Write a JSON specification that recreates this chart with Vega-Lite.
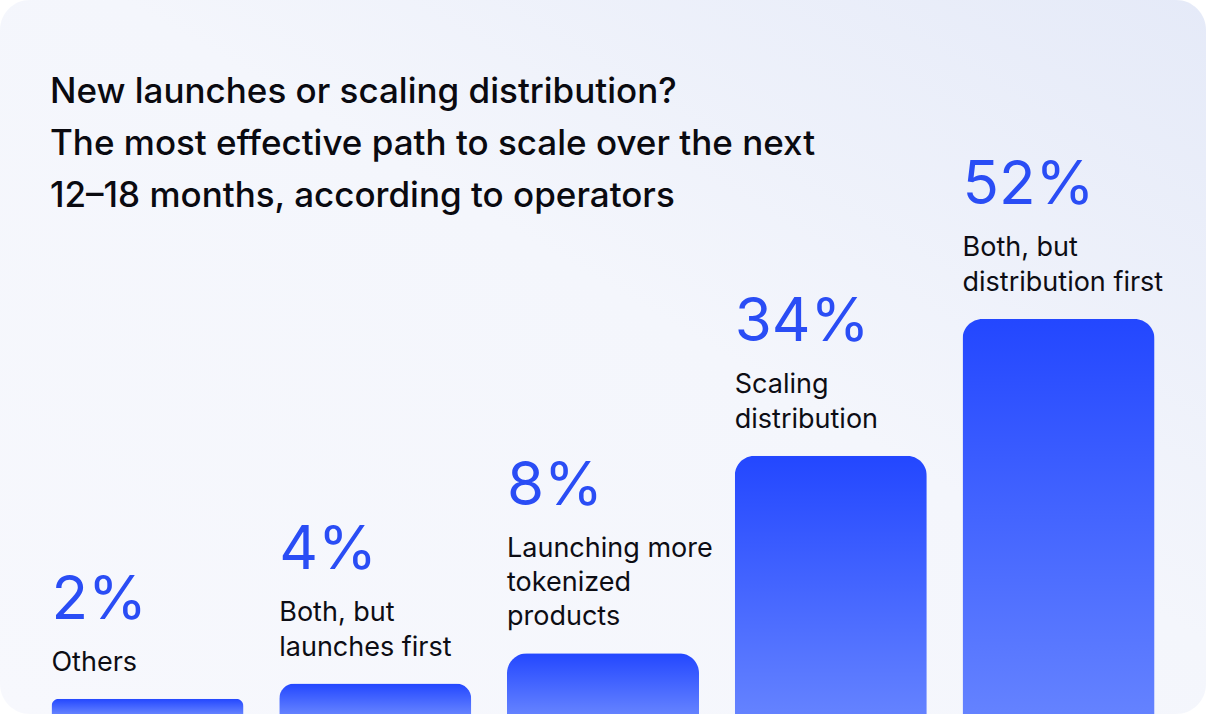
{
  "$schema": "https://vega.github.io/schema/vega-lite/v6.json",
  "autosize": {"type": "fit", "contains": "padding"},
  "width": 1206,
  "height": 714,
  "padding": 0,
  "background": "#ffffff",
  "title": {
    "text": ["New launches or scaling distribution?", "The most effective path to scale over the next", "12–18 months, according to operators"],
    "orient": "top",
    "anchor": "start",
    "frame": "group",
    "font": "Inter",
    "fontSize": 35,
    "fontWeight": 500,
    "color": "#0A0A10",
    "lineHeight": 52,
    "dx": 50,
    "offset": -214
  },
  "config": {
    "view": {
      "fill": {
        "gradient": "linear", "x1": 0, "y1": 1, "x2": 1, "y2": 0,
        "stops": [{"offset": 0, "color": "#F7F8FD"}, {"offset": 0.55, "color": "#F4F6FC"}, {"offset": 1, "color": "#E5EAF8"}]
      },
      "stroke": null,
      "cornerRadius": 30
    },
    "axis": {"disable": true}
  },
  "data": {
    "values": [
      {"category": "Others", "value": 2, "pct": "2%", "label": ["Others"]},
      {"category": "Both, but launches first", "value": 4, "pct": "4%", "label": ["Both, but", "launches first"]},
      {"category": "Launching more tokenized products", "value": 8, "pct": "8%", "label": ["Launching more", "tokenized", "products"]},
      {"category": "Scaling distribution", "value": 34, "pct": "34%", "label": ["Scaling", "distribution"]},
      {"category": "Both, but distribution first", "value": 52, "pct": "52%", "label": ["Both, but", "distribution first"]}
    ]
  },
  "encoding": {
    "x": {"field": "category", "type": "nominal", "sort": null, "axis": null,
          "scale": {"paddingInner": 0.157, "paddingOuter": 0.226}},
    "y": {"field": "value", "type": "quantitative", "axis": null,
          "scale": {"domain": [0, 94], "nice": false, "zero": true}}
  },
  "layer": [
    {
      "mark": {
        "type": "bar",
        "cornerRadiusTopLeft": 20,
        "cornerRadiusTopRight": 20,
        "color": {
          "gradient": "linear", "x1": 0, "y1": 0, "x2": 0, "y2": 1,
          "stops": [{"offset": 0, "color": "#2347FF"}, {"offset": 1, "color": "#6482FF"}]
        }
      }
    },
    {
      "transform": [{"filter": "length(datum.label) == 1"}],
      "layer": [
        {
          "mark": {"type": "text", "align": "left", "baseline": "alphabetic", "font": "Inter", "fontSize": 27, "color": "#0D0D14", "lineHeight": 35, "dy": -28},
          "encoding": {"x": {"field": "category", "type": "nominal", "sort": null, "bandPosition": 0}, "text": {"field": "label"}}
        },
        {
          "mark": {"type": "text", "align": "left", "baseline": "alphabetic", "font": "Inter", "fontSize": 60, "color": "#2A4DF5", "dy": -80},
          "encoding": {"x": {"field": "category", "type": "nominal", "sort": null, "bandPosition": 0}, "text": {"field": "pct"}}
        }
      ]
    },
    {
      "transform": [{"filter": "length(datum.label) == 2"}],
      "layer": [
        {
          "mark": {"type": "text", "align": "left", "baseline": "alphabetic", "font": "Inter", "fontSize": 27, "color": "#0D0D14", "lineHeight": 35, "dy": -63},
          "encoding": {"x": {"field": "category", "type": "nominal", "sort": null, "bandPosition": 0}, "text": {"field": "label"}}
        },
        {
          "mark": {"type": "text", "align": "left", "baseline": "alphabetic", "font": "Inter", "fontSize": 60, "color": "#2A4DF5", "dy": -115},
          "encoding": {"x": {"field": "category", "type": "nominal", "sort": null, "bandPosition": 0}, "text": {"field": "pct"}}
        }
      ]
    },
    {
      "transform": [{"filter": "length(datum.label) == 3"}],
      "layer": [
        {
          "mark": {"type": "text", "align": "left", "baseline": "alphabetic", "font": "Inter", "fontSize": 27, "color": "#0D0D14", "lineHeight": 34, "dy": -96},
          "encoding": {"x": {"field": "category", "type": "nominal", "sort": null, "bandPosition": 0}, "text": {"field": "label"}}
        },
        {
          "mark": {"type": "text", "align": "left", "baseline": "alphabetic", "font": "Inter", "fontSize": 60, "color": "#2A4DF5", "dy": -148},
          "encoding": {"x": {"field": "category", "type": "nominal", "sort": null, "bandPosition": 0}, "text": {"field": "pct"}}
        }
      ]
    }
  ]
}
